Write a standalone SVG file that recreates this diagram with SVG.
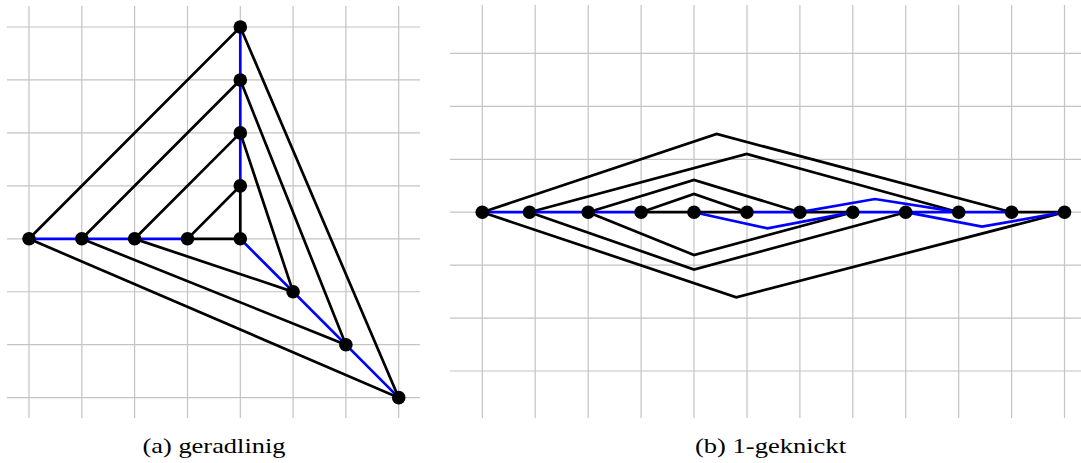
<svg xmlns="http://www.w3.org/2000/svg" width="1081" height="463" viewBox="0 0 1081 463">
<style>
.grid{stroke:#c4c4c4;stroke-width:1.2;fill:none}
.e{stroke:#000;stroke-width:2.7;fill:none;stroke-linejoin:miter;stroke-linecap:round}
.b{stroke:#0000ff;stroke-width:2.7;fill:none;stroke-linejoin:miter;stroke-linecap:round}
.n{fill:#000}
</style>
<rect width="1081" height="463" fill="#fff"/>
<g id="grid-a" class="grid">
<path d="M29,6V418M81.8,6V418M134.6,6V418M187.5,6V418M240.3,6V418M293.1,6V418M345.9,6V418M398.7,6V418"/>
<path d="M7,27H420M7,79.95H420M7,132.9H420M7,185.85H420M7,238.8H420M7,291.75H420M7,344.7H420M7,397.65H420"/>
</g>
<g id="grid-b" class="grid">
<path d="M482.3,5V418M535.2,5V418M588.2,5V418M641.1,5V418M694,5V418M747,5V418M799.9,5V418M852.8,5V418M905.7,5V418M958.7,5V418M1011.6,5V418M1064.5,5V418"/>
<path d="M450,53.4H1081M450,106.3H1081M450,159.3H1081M450,212.2H1081M450,265.1H1081M450,318.1H1081M450,371H1081"/>
</g>
<g id="connectors">
<g id="edges-a">
<path class="e" d="M187.5,238.8H240.3V185.85Z"/>
<path class="e" d="M134.6,238.8L240.3,132.9L293.1,291.75Z"/>
<path class="e" d="M81.8,238.8L240.3,79.95L345.9,344.7Z"/>
<path class="e" d="M29,238.8L240.3,27L398.7,397.65Z"/>
<path class="b" d="M240.3,27V185.85"/>
<path class="b" d="M29,238.8H187.5"/>
<path class="b" d="M240.3,238.8L398.7,397.65"/>
</g>
<g id="edges-b">
<path class="e" d="M641.1,212.2H747"/>
<path class="e" d="M799.9,212.2H852.8"/>
<path class="e" d="M1011.6,212.2H1064.5"/>
<path class="e" d="M641.1,212.2L694,194L747,212.2"/>
<path class="e" d="M588.2,212.2L694,180L799.9,212.2"/>
<path class="e" d="M588.2,212.2L694,255L852.8,212.2"/>
<path class="e" d="M529.5,212.2L746.7,154L958.7,212.2"/>
<path class="e" d="M529.5,212.2L694,269.5L905.7,212.2"/>
<path class="e" d="M482.3,212.2L716.7,134L1011.6,212.2"/>
<path class="e" d="M482.3,212.2L736.3,297.3L1064.5,212.2"/>
<path class="b" d="M482.3,212.2H641.1"/>
<path class="b" d="M747,212.2H799.9"/>
<path class="b" d="M852.8,212.2H1011.6"/>
<path class="b" d="M694,212.2L767.5,228.3L852.8,212.2"/>
<path class="b" d="M799.9,212.2L875,199L958.7,212.2"/>
<path class="b" d="M905.7,212.2L982,226.7L1064.5,212.2"/>
</g>
</g>
<g id="nodes-a" class="n">
<g id="a-t0"><circle cx="240.3" cy="27" r="6.8"/></g>
<g id="a-t1"><circle cx="240.3" cy="79.95" r="6.8"/></g>
<g id="a-t2"><circle cx="240.3" cy="132.9" r="6.8"/></g>
<g id="a-t3"><circle cx="240.3" cy="185.85" r="6.8"/></g>
<g id="a-c"><circle cx="240.3" cy="238.8" r="6.8"/></g>
<g id="a-h0"><circle cx="29" cy="238.8" r="6.8"/></g>
<g id="a-h1"><circle cx="81.8" cy="238.8" r="6.8"/></g>
<g id="a-h2"><circle cx="134.6" cy="238.8" r="6.8"/></g>
<g id="a-h3"><circle cx="187.5" cy="238.8" r="6.8"/></g>
<g id="a-d1"><circle cx="293.1" cy="291.75" r="6.8"/></g>
<g id="a-d2"><circle cx="345.9" cy="344.7" r="6.8"/></g>
<g id="a-d3"><circle cx="398.7" cy="397.65" r="6.8"/></g>
</g>
<g id="nodes-b" class="n">
<g id="b-0"><circle cx="482.3" cy="212.2" r="6.8"/></g>
<g id="b-1"><circle cx="529.5" cy="212.2" r="6.8"/></g>
<g id="b-2"><circle cx="588.2" cy="212.2" r="6.8"/></g>
<g id="b-3"><circle cx="641.1" cy="212.2" r="6.8"/></g>
<g id="b-4"><circle cx="694" cy="212.2" r="6.8"/></g>
<g id="b-5"><circle cx="747" cy="212.2" r="6.8"/></g>
<g id="b-6"><circle cx="799.9" cy="212.2" r="6.8"/></g>
<g id="b-7"><circle cx="852.8" cy="212.2" r="6.8"/></g>
<g id="b-8"><circle cx="905.7" cy="212.2" r="6.8"/></g>
<g id="b-9"><circle cx="958.7" cy="212.2" r="6.8"/></g>
<g id="b-10"><circle cx="1011.6" cy="212.2" r="6.8"/></g>
<g id="b-11"><circle cx="1064.5" cy="212.2" r="6.8"/></g>
</g>
<g id="captions" font-family="Liberation Serif, Times New Roman, serif" font-size="22" fill="#000">
<text x="142.5" y="453" textLength="143" lengthAdjust="spacingAndGlyphs">(a) geradlinig</text>
<text x="695" y="453" textLength="151" lengthAdjust="spacingAndGlyphs">(b) 1-geknickt</text>
</g>
</svg>
